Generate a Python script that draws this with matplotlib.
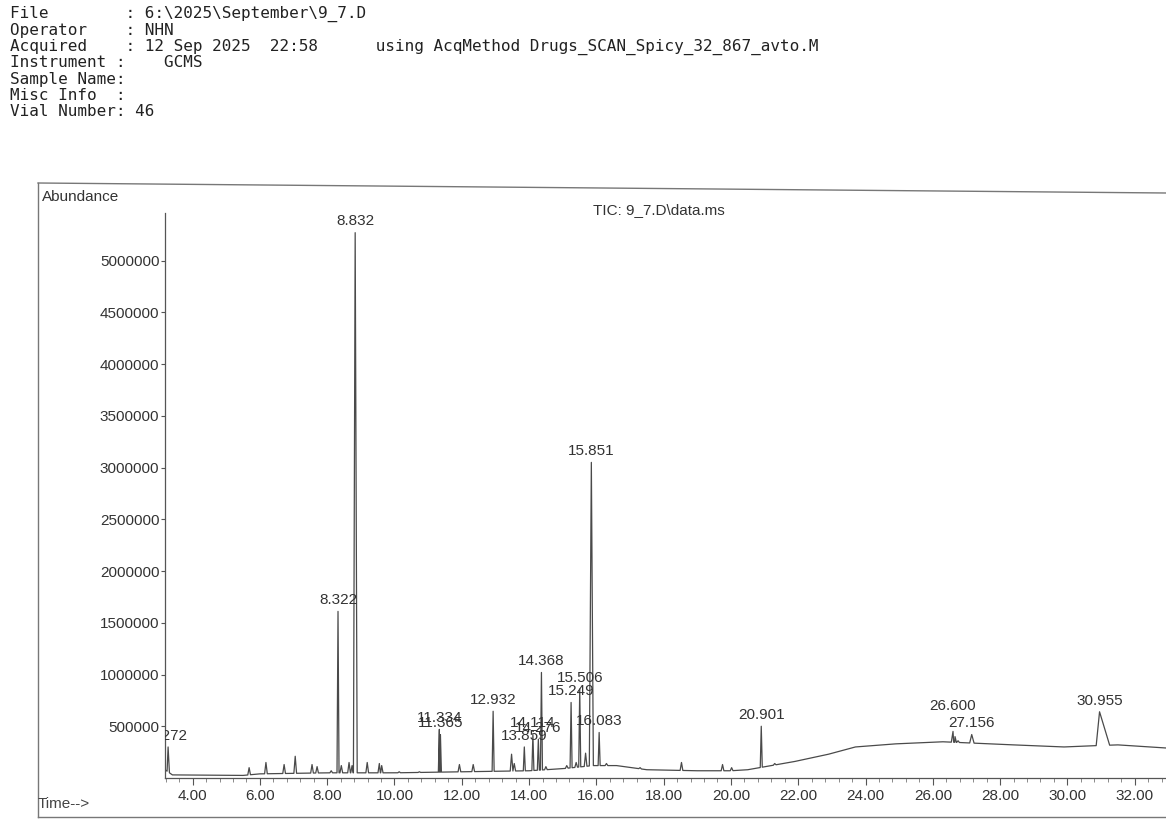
import numpy as np
import matplotlib.pyplot as plt
from matplotlib.lines import Line2D
from matplotlib.ticker import MultipleLocator

# ---------------- header block ----------------
header_lines = [
    "File        : 6:\\2025\\September\\9_7.D",
    "Operator    : NHN",
    "Acquired    : 12 Sep 2025  22:58      using AcqMethod Drugs_SCAN_Spicy_32_867_avto.M",
    "Instrument :    GCMS",
    "Sample Name:",
    "Misc Info  :",
    "Vial Number: 46",
]
tic_title = "TIC: 9_7.D\\data.ms"

# ---------------- labelled peaks (retention time, apex abundance) ----------------
peak_rt = [3.272, 8.322, 8.832, 11.334, 11.365, 12.932, 13.859, 14.114, 14.276,
           14.368, 15.249, 15.506, 15.851, 16.083, 20.901, 26.600, 27.156, 30.955]
peak_height = [300000, 1610000, 5270000, 470000, 420000, 645000, 300000, 420000, 375000,
               1020000, 730000, 860000, 3050000, 440000, 500000, 450000, 420000, 640000]
peak_wl = [0.03, 0.03, 0.06, 0.03, 0.03, 0.03, 0.03, 0.03, 0.03,
           0.03, 0.03, 0.03, 0.06, 0.03, 0.03, 0.05, 0.06, 0.10]
peak_wr = [0.04, 0.03, 0.06, 0.03, 0.03, 0.03, 0.03, 0.03, 0.03,
           0.03, 0.03, 0.03, 0.06, 0.03, 0.03, 0.05, 0.07, 0.30]

# ---------------- small unlabelled peaks ----------------
minor_rt = [5.68, 6.18, 6.72, 7.05, 7.55, 7.70, 8.12, 8.42, 8.65, 8.74, 9.19, 9.55,
            9.62, 10.14, 10.74, 11.93, 12.34, 13.48, 13.56, 14.50, 15.12, 15.40,
            15.68, 16.30, 17.30, 18.53, 19.75, 20.02, 21.30, 26.66, 26.75]
minor_height = [100000, 150000, 130000, 210000, 130000, 110000, 70000, 120000, 150000,
                120000, 150000, 140000, 120000, 60000, 60000, 130000, 130000, 230000,
                140000, 110000, 120000, 150000, 240000, 140000, 100000, 150000, 130000,
                100000, 140000, 400000, 360000]

# ---------------- baseline drift ----------------
base_t = [3.18, 3.40, 5.50, 6.00, 8.00, 10.00, 12.00, 14.00, 15.00, 15.90, 16.60,
          17.50, 19.00, 20.00, 20.50, 21.20, 21.90, 22.90, 23.70, 24.90, 26.30,
          28.40, 29.90, 30.60, 31.50, 32.93]
base_y = [80000, 30000, 25000, 40000, 50000, 50000, 60000, 70000, 90000, 120000, 120000,
          80000, 70000, 70000, 80000, 120000, 160000, 230000, 300000, 330000, 350000,
          320000, 300000, 310000, 320000, 290000]

x_ticks = np.arange(4, 33, 2)
y_ticks = np.arange(500000, 5000001, 500000)

# ---------------- build trace ----------------
all_rt = np.array(peak_rt + minor_rt)
all_h = np.array(peak_height + minor_height)
all_wl = np.array(peak_wl + [0.04] * len(minor_rt))
all_wr = np.array(peak_wr + [0.04] * len(minor_rt))

keep = np.ones(len(base_t), bool)
for rt, a, b in zip(all_rt, all_wl, all_wr):
    keep &= ~((np.array(base_t) > rt - a) & (np.array(base_t) < rt + b))
tt = list(np.array(base_t)[keep])
yy = list(np.array(base_y)[keep])
for rt, h, a, b in zip(all_rt, all_h, all_wl, all_wr):
    tt += [rt - a, rt, rt + b]
    yy += [np.interp(rt - a, base_t, base_y), h, np.interp(rt + b, base_t, base_y)]
order = np.argsort(tt, kind="stable")
tt = np.array(tt)[order]
yy = np.array(yy)[order]

# ---------------- figure ----------------
W, H = 1166, 823
fig = plt.figure(figsize=(W / 100, H / 100), dpi=100)
fig.patch.set_facecolor("white")

def fx(px):
    return px / W

def fy(py):
    return 1 - py / H

ax = fig.add_axes([fx(165), fy(778), fx(1001), (778 - 213) / H])
ax.plot(tt, yy, color="#4a4a4a", lw=0.9)
ax.set_xlim(3.18, 32.93)
ax.set_ylim(0, 5460000)

for s in ["top", "right"]:
    ax.spines[s].set_visible(False)
for s in ["left", "bottom"]:
    ax.spines[s].set_color("#555555")
    ax.spines[s].set_linewidth(0.9)

ax.set_xticks(x_ticks)
ax.set_xticklabels([f"{v:.2f}" for v in x_ticks])
ax.xaxis.set_minor_locator(MultipleLocator(0.4))
ax.set_yticks(y_ticks)
ax.set_yticklabels([str(v) for v in y_ticks])
ax.tick_params(axis="x", which="major", length=5, width=0.8, color="#555555",
               labelsize=11, labelcolor="#333333", pad=3)
ax.tick_params(axis="x", which="minor", length=3, width=0.6, color="#777777")
ax.tick_params(axis="y", length=3, width=0.8, color="#555555",
               labelsize=11, labelcolor="#333333", pad=1)
for lab in ax.get_xticklabels() + ax.get_yticklabels():
    lab.set_family("Liberation Sans")

label_nudge = {26.600: 10}
for rt, h in zip(peak_rt, peak_height):
    ax.annotate(f"{rt:.3f}", (rt, h), xytext=(0, 3 + label_nudge.get(rt, 0)),
                textcoords="offset points", ha="center", va="bottom",
                fontsize=11, family="Liberation Sans", color="#333333",
                annotation_clip=False, clip_on=True)

# ---------------- page texts ----------------
for i, line in enumerate(header_lines):
    fig.text(fx(10), fy(14 + i * 16.3), line, family="DejaVu Sans Mono",
             fontsize=11.5, color="#222222", va="center", ha="left")

fig.text(fx(42), fy(197), "Abundance", family="Liberation Sans", fontsize=11,
         color="#333333", va="center", ha="left")
fig.text(fx(38), fy(804), "Time-->", family="Liberation Sans", fontsize=11,
         color="#444444", va="center", ha="left")
fig.text(fx(593), fy(210), tic_title, family="Liberation Sans", fontsize=11,
         color="#333333", va="center", ha="left")

# outer print frame
frame_kw = dict(color="#777777", lw=1.0, transform=fig.transFigure)
fig.add_artist(Line2D([fx(38), fx(1166)], [fy(183), fy(193)], **frame_kw))
fig.add_artist(Line2D([fx(38), fx(38)], [fy(183), fy(817)], **frame_kw))
fig.add_artist(Line2D([fx(38), fx(1166)], [fy(817), fy(817)], **frame_kw))

fig.savefig("out.png", dpi=100, facecolor="white")
